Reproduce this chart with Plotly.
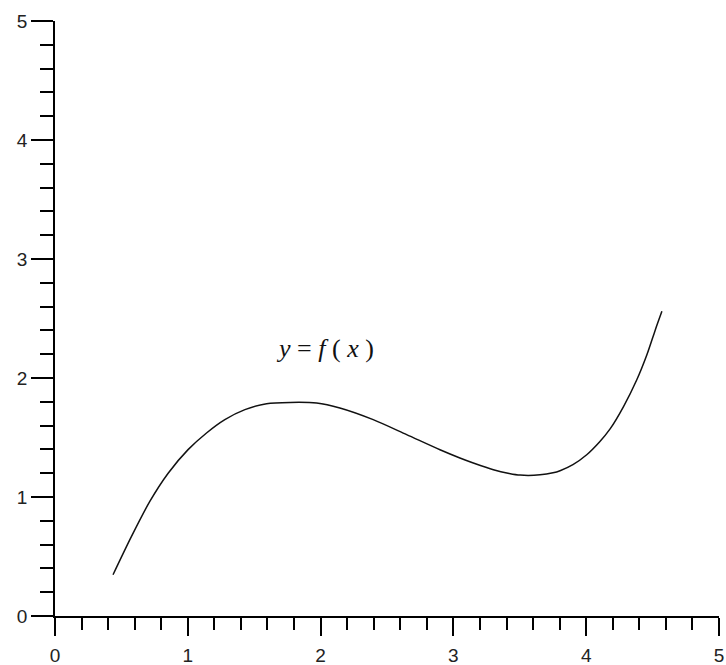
import plotly.graph_objects as go

# Sampled points of the curve y = f(x)
x_pts = [0.437, 0.576, 0.714, 0.852, 1.002, 1.141, 1.279, 1.430, 1.593, 1.770,
         1.970, 2.145, 2.396, 2.648, 2.899, 3.049, 3.150, 3.301, 3.420, 3.502,
         3.652, 3.750, 3.803, 3.900, 4.004, 4.100, 4.180, 4.281, 4.381, 4.457,
         4.519, 4.570]
y_pts = [0.347, 0.669, 0.963, 1.200, 1.398, 1.538, 1.650, 1.734, 1.784, 1.795,
         1.790, 1.748, 1.650, 1.524, 1.397, 1.328, 1.286, 1.229, 1.198, 1.184,
         1.186, 1.203, 1.221, 1.272, 1.355, 1.462, 1.572, 1.760, 1.985, 2.195,
         2.400, 2.560]

tick_vals = [0, 1, 2, 3, 4, 5]
tick_text = ["0", "1", "2", "3", "4", "5"]

label_text = "<i>y</i> = <i>f</i> ( <i>x</i> )"
label_pos = (2.03, 2.25)

fig = go.Figure()
fig.add_trace(go.Scatter(
    x=x_pts, y=y_pts, mode="lines",
    line=dict(color="#111111", width=1.5, shape="spline", smoothing=0.8),
    showlegend=False, hoverinfo="skip",
))

fig.add_annotation(
    x=label_pos[0], y=label_pos[1], xref="x", yref="y",
    text=label_text, showarrow=False,
    font=dict(family="Liberation Serif", size=26, color="#111111"),
)

tick_font = dict(family="Liberation Sans", size=19, color="#222222")

fig.update_xaxes(
    range=[0, 5], tickvals=tick_vals, ticktext=tick_text,
    showline=True, linecolor="black", linewidth=1.5,
    ticks="outside", ticklen=18, tickwidth=1.5, tickcolor="black",
    minor=dict(ticks="outside", ticklen=12, tickwidth=1.5, tickcolor="black", dtick=0.2),
    showgrid=False, zeroline=False, tickfont=tick_font, automargin=False,
    ticklabelstandoff=3,
)
fig.update_yaxes(
    range=[0, 5], tickvals=tick_vals, ticktext=tick_text,
    showline=True, linecolor="black", linewidth=1.5,
    ticks="outside", ticklen=22, tickwidth=1.5, tickcolor="black",
    minor=dict(ticks="outside", ticklen=13, tickwidth=1.5, tickcolor="black", dtick=0.2),
    showgrid=False, zeroline=False, tickfont=tick_font, automargin=False,
)

fig.update_layout(
    width=726, height=665,
    margin=dict(l=55, r=7, t=21, b=49),
    paper_bgcolor="white", plot_bgcolor="white",
)

fig.write_html("out.html")
